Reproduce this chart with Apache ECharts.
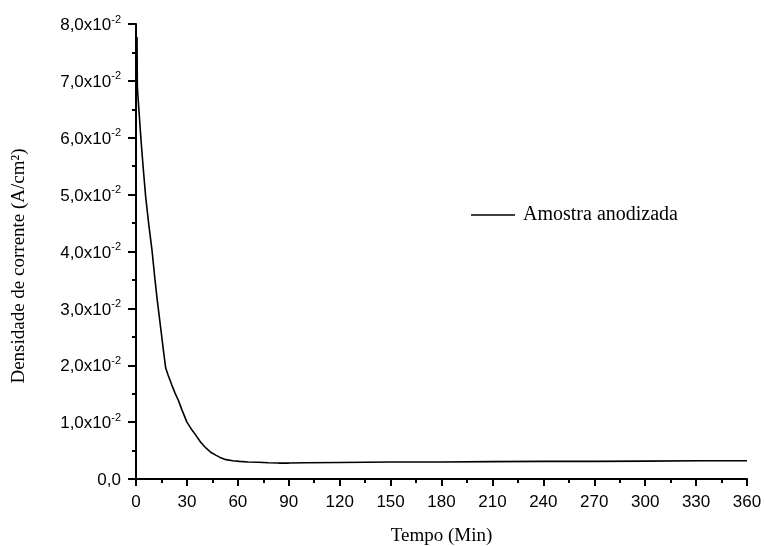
<!DOCTYPE html>
<html>
<head>
<meta charset="utf-8">
<script src="https://cdn.jsdelivr.net/npm/echarts@6/dist/echarts.min.js"></script>
<style>html,body{margin:0;padding:0;background:#fff}#c{width:764px;height:546px}</style>
</head>
<body>
<div id="c"></div>
<script>
const seriesName = 'Amostra anodizada';
const xTitle = 'Tempo (Min)';
const yTitle = 'Densidade de corrente (A/cm²)';
const timeMin = [0.6, 0.8, 1.0, 1.8, 2.95, 4.3, 5.7, 7.5, 9.4, 11.2, 12.5, 13.7, 14.9, 16.2, 17.5, 19, 21, 23, 25, 27, 30, 33, 35, 38, 41, 44, 47, 49.5, 53, 57, 61, 66, 72, 78, 84, 90, 100, 120, 150, 180, 210, 240, 270, 300, 333, 360];
const density = [0.0777, 0.0690, 0.0680, 0.0645, 0.0596, 0.0545, 0.0496, 0.0448, 0.0403, 0.0350, 0.0315, 0.0286, 0.0257, 0.0225, 0.0195, 0.0182, 0.0166, 0.0151, 0.0138, 0.0122, 0.0100, 0.0086, 0.0078, 0.0065, 0.0055, 0.0047, 0.0042, 0.0038, 0.0034, 0.0032, 0.0031, 0.0030, 0.00295, 0.00285, 0.0028, 0.0028, 0.00285, 0.0029, 0.0030, 0.0030, 0.00305, 0.0031, 0.0031, 0.00315, 0.0032, 0.0032];
const xTicks = [0, 30, 60, 90, 120, 150, 180, 210, 240, 270, 300, 330, 360];

const chart = echarts.init(document.getElementById('c'), null, {renderer: 'canvas'});
const axisLine = {show: true, lineStyle: {color: '#000', width: 2}};
chart.setOption({
  animation: false,
  backgroundColor: '#fff',
  grid: {left: 136, right: 17, top: 24, bottom: 67, containLabel: false, outerBoundsMode: 'none'},
  legend: {
    data: [{name: seriesName, icon: 'rect'}], left: 466, top: 200, itemWidth: 44, itemHeight: 1.5, itemGap: 8,
    textStyle: {fontFamily: 'Liberation Serif', fontSize: 20, color: '#000', padding: [0, 0, 0, 3]}
  },
  graphic: [{
    type: 'text', x: 19, y: 266, rotation: Math.PI / 2,
    style: {text: yTitle, font: '19px "Liberation Serif"', fill: '#000', align: 'center', verticalAlign: 'middle'}
  }],
  xAxis: {
    type: 'value', min: 0, max: 360, interval: 30,
    axisLine: axisLine,
    axisTick: {show: true, length: 7, inside: false, lineStyle: {color: '#000', width: 2}},
    minorTick: {show: true, splitNumber: 2, length: 4, lineStyle: {color: '#000', width: 2}},
    splitLine: {show: false},
    axisLabel: {fontFamily: 'Liberation Sans', fontSize: 17, color: '#000', margin: 15,
      formatter: v => xTicks.includes(v) ? String(v) : ''},
    name: xTitle, nameLocation: 'middle', nameGap: 48,
    nameTextStyle: {fontFamily: 'Liberation Serif', fontSize: 19, color: '#000'}
  },
  yAxis: {
    type: 'value', min: 0, max: 0.08, interval: 0.01,
    axisLine: axisLine,
    axisTick: {show: true, length: 8, inside: false, lineStyle: {color: '#000', width: 2}},
    minorTick: {show: true, splitNumber: 2, length: 4, lineStyle: {color: '#000', width: 2}},
    splitLine: {show: false},
    axisLabel: {
      margin: 15, color: '#000',
      formatter: v => {
        if (Math.abs(v) < 1e-9) return '{a|0,0}';
        return '{a|' + (v * 100).toFixed(1).replace('.', ',') + 'x10}{s|-2}';
      },
      rich: {
        a: {fontFamily: 'Liberation Sans', fontSize: 17, color: '#000', lineHeight: 20, verticalAlign: 'bottom'},
        s: {fontFamily: 'Liberation Sans', fontSize: 11, color: '#000', lineHeight: 20, verticalAlign: 'top', padding: [0, 0, 9, 0]}
      }
    }
  },
  series: [{
    name: seriesName, type: 'line', symbol: 'none', showSymbol: false,
    data: timeMin.map((t, i) => [t, density[i]]),
    lineStyle: {color: '#000', width: 1.6}, itemStyle: {color: '#000'}
  }]
});
</script>
</body>
</html>
